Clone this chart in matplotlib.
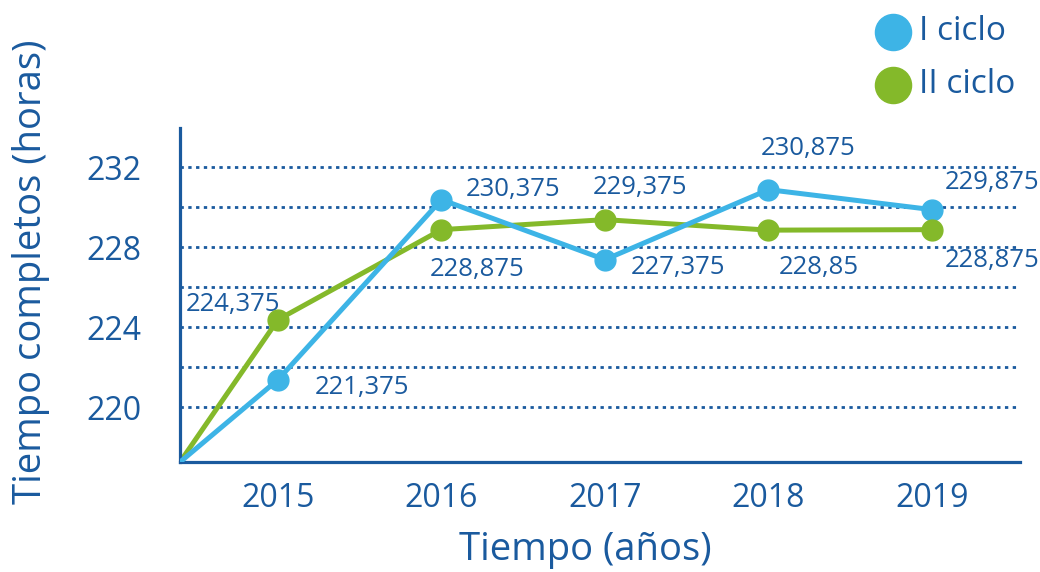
import numpy as np
import matplotlib.pyplot as plt

plt.rcParams['font.family'] = ['Open Sans', 'DejaVu Sans']

# data
years = [2015, 2016, 2017, 2018, 2019]
ciclo1 = [221.375, 230.375, 227.375, 230.875, 229.875]
ciclo2 = [224.375, 228.875, 229.375, 228.85, 228.875]
labels1 = ['221,375', '230,375', '227,375', '230,875', '229,875']
labels2 = ['224,375', '228,875', '229,375', '228,85', '228,875']
origin = (2014.4, 217.25)  # both lines start at the axes corner
yticks = [220, 224, 228, 232]
grid_y = [220, 222, 224, 226, 228, 230, 232]

blue = '#3db4e6'
green = '#84b92a'
dark = '#1a5a9e'

fig = plt.figure(figsize=(10.4, 5.72), dpi=100)
ax = fig.add_axes([0.173, 0.192, 0.808, 0.584])

for gy in grid_y:
    ax.axhline(gy, xmin=0, xmax=0.995, color=dark, lw=2, dashes=(1.2, 1.6), zorder=1)

x1 = [origin[0]] + years
ax.plot(x1, [origin[1]] + ciclo1, color=blue, lw=3.6, zorder=3)
ax.plot(years, ciclo1, 'o', color=blue, ms=15, zorder=4)
ax.plot(x1, [origin[1]] + ciclo2, color=green, lw=3.6, zorder=2)
ax.plot(years, ciclo2, 'o', color=green, ms=15, zorder=4)

# label offsets in pixels (x offset to left edge, y offset to centre)
off1 = [(37, -8), (24, 10), (26, -8), (-8, 41), (13, 27)]
off2 = [(-92, 15), (-12, -40), (-12, 32), (10, -37), (13, -31)]
for x, y, t, o in zip(years, ciclo1, labels1, off1):
    ax.annotate(t, (x, y), xytext=o, textcoords='offset pixels', ha='left', va='center',
                fontsize=18.5, color=dark)
for x, y, t, o in zip(years, ciclo2, labels2, off2):
    ax.annotate(t, (x, y), xytext=o, textcoords='offset pixels', ha='left', va='center',
                fontsize=18.5, color=dark)

ax.set_xlim(origin[0], 2019.54)
ax.set_ylim(origin[1], 233.95)
ax.set_xticks(years)
ax.set_yticks(yticks)
ax.tick_params(axis='both', length=0, labelsize=23, labelcolor=dark)
ax.tick_params(axis='y', pad=28)
ax.tick_params(axis='x', pad=14)
for s in ['top', 'right']:
    ax.spines[s].set_visible(False)
for s in ['left', 'bottom']:
    ax.spines[s].set_color(dark)
    ax.spines[s].set_linewidth(2.3)

fig.text(0.5625, 0.038, 'Tiempo (años)', ha='center', va='center', fontsize=27.5, color=dark)
fig.text(0.03, 0.525, 'Tiempo completos (horas)', ha='center', va='center', rotation=90,
         fontsize=27.5, color=dark)

# legend
ax.plot([893 / 1040], [1 - 32 / 572], 'o', color=blue, ms=26, transform=fig.transFigure, clip_on=False)
ax.plot([893 / 1040], [1 - 85 / 572], 'o', color=green, ms=26, transform=fig.transFigure, clip_on=False)
fig.text(919 / 1040, 1 - 32 / 572, 'I ciclo', ha='left', va='center', fontsize=24, color=dark)
fig.text(919 / 1040, 1 - 85 / 572, 'II ciclo', ha='left', va='center', fontsize=24, color=dark)

fig.savefig('out.png', dpi=100)
